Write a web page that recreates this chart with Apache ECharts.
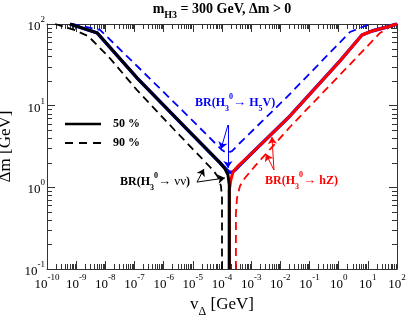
<!DOCTYPE html>
<html><head><meta charset="utf-8">
<script src="https://cdn.jsdelivr.net/npm/echarts@6/dist/echarts.min.js"></script>
<style>html,body{margin:0;padding:0;background:#fff}#c{width:409px;height:315px}</style>
</head><body><div id="c"></div>
<script>
// ---- tick labels (exponents of 10) ----
const xTickExp = [-10,-9,-8,-7,-6,-5,-4,-3,-2,-1,0,1,2];
const yTickExp = [-1,0,1,2];

// ---- legend entries ----
const legendNames = ['50 %', '90 %'];

// ---- curves (v_Delta [GeV], Delta m [GeV]) ----
const blackSolidX = [6.1e-10, 5.2e-9, 1.2e-7, 3.6e-6, 8.5e-5, 1.26e-4, 1.6e-4, 1.78e-4, 1.78e-4];
const blackSolidY = [100, 78, 22, 6.3, 2.0, 1.68, 1.42, 1.07, 0.1];

const blackDashX = [1.9e-10, 9.1e-10, 2.6e-9, 1.45e-8, 1.2e-7, 2.4e-6, 4.9e-5, 7.3e-5, 9.2e-5, 1.0e-4, 1.0e-4];
const blackDashY = [100, 84, 71, 38, 15.6, 5.0, 1.63, 1.34, 1.04, 0.74, 0.1];

const blueDashX = [7.2e-10, 6.6e-9, 1.22e-7, 8.0e-6, 5.7e-5, 1.0e-4, 1.48e-4, 2.2e-4, 4.1e-4, 1.7e-2, 2.44, 11.8];
const blueDashY = [100, 84.5, 30.6, 7.06, 3.49, 2.86, 2.63, 2.78, 3.49, 12.8, 79.8, 100];

const blueSolidX = [6.1e-10, 5.2e-9, 1.2e-7, 3.6e-6, 8.5e-5, 1.26e-4, 1.73e-4, 2.2e-4, 2.8e-4, 3.8e-4, 9.1e-4, 2.14e-2, 1.11, 6.3, 13.9, 45.3, 100];
const blueSolidY = [100, 78, 22, 6.3, 2.0, 1.73, 1.54, 1.52, 1.63, 1.82, 2.49, 7.48, 35.3, 73.3, 82.1, 91.9, 100];

const redSolidX = [1.78e-4, 1.78e-4, 2.0e-4, 2.38e-4, 3.53e-4, 9.1e-4, 2.14e-2, 1.11, 6.3, 13.9, 45.3, 100];
const redSolidY = [0.1, 0.93, 1.23, 1.54, 1.82, 2.49, 7.48, 35.3, 73.3, 82.1, 91.9, 100];

const redDashX = [3.0e-4, 3.0e-4, 3.26e-4, 4.13e-4, 6.1e-4, 1.35e-3, 2.14e-2, 26.1, 72.8, 100];
const redDashY = [0.1, 0.47, 0.74, 1.04, 1.30, 1.82, 5.48, 77.6, 97.2, 100];

// ---- annotation arrows (data coords: [from], [to]) ----
const blueArrows = [[[1.6e-4, 5.8], [9.2e-5, 2.94]], [[1.6e-4, 5.8], [1.6e-4, 1.73]]];
const blackArrows = [[[1.39e-5, 1.16], [2.41e-5, 1.68]], [[1.39e-5, 1.16], [1.26e-4, 1.30]]];
const redArrows = [[[6.05e-3, 1.63], [5.17e-3, 4.13]], [[6.05e-3, 1.63], [3.22e-3, 2.56]]];

const FONT = 'Liberation Serif';
const DASH = [8, 5];
const zip = (xs, ys) => xs.map((x, i) => [x, ys[i]]);

const chart = echarts.init(document.getElementById('c'), null, {renderer: 'canvas'});

const supRich = {
  b: {fontFamily: FONT, fontSize: 13, color: '#000', lineHeight: 18, verticalAlign: 'bottom'},
  s: {fontFamily: FONT, fontSize: 9, color: '#000', lineHeight: 18, verticalAlign: 'top'}
};
function expLabel(list) {
  return function (v) {
    const e = Math.round(Math.log10(v));
    if (list.indexOf(e) < 0) return '';
    return '{b|10}{s|' + e + '}';
  };
}
const axisLine = {show: true, lineStyle: {color: '#333', width: 1}};
const tick = {show: true, inside: true, length: 8, lineStyle: {color: '#333', width: 1}};

function arrowsML(arr, color) {
  return {
    silent: true, animation: false,
    symbol: ['none', 'arrow'], symbolSize: 7,
    label: {show: false},
    lineStyle: {type: 'solid', width: 1, color: color},
    emphasis: {disabled: true},
    data: arr.map(a => [{coord: a[0]}, {coord: a[1]}])
  };
}
function line(name, xs, ys, color, type, width, z, ml) {
  const s = {
    name: name, type: 'line', data: zip(xs, ys), symbol: 'none', showSymbol: false,
    lineStyle: {color: color, width: width, type: type}, itemStyle: {color: color},
    z: z, silent: true, animation: false, emphasis: {disabled: true}, clip: true
  };
  if (ml) s.markLine = ml;
  return s;
}

const option = {
  backgroundColor: '#fff',
  animation: false,
  grid: {left: 47, right: 12, top: 24, bottom: 46, containLabel: false, outerBoundsMode: 'none'},
  xAxis: [
    {type: 'log', logBase: 10, min: 1e-10, max: 1e2, interval: 1, position: 'bottom',
     axisLine: axisLine, axisTick: tick, splitLine: {show: false},
     axisLabel: {formatter: expLabel(xTickExp), rich: supRich, margin: 4, hideOverlap: false, showMinLabel: true, showMaxLabel: true},
     name: '{v|v}{d|Δ}{v| [GeV]}', nameLocation: 'middle', nameGap: 20,
     nameTextStyle: {rich: {
       v: {fontFamily: FONT, fontSize: 17, color: '#000', lineHeight: 22, verticalAlign: 'top'},
       d: {fontFamily: FONT, fontSize: 12, color: '#000', lineHeight: 22, verticalAlign: 'bottom'}}}},
    {type: 'log', logBase: 10, min: 1e-10, max: 1e2, interval: 1, position: 'top',
     axisLine: axisLine, axisTick: tick, splitLine: {show: false}, axisLabel: {show: false}}
  ],
  yAxis: [
    {type: 'log', logBase: 10, min: 0.1, max: 100, interval: 1, position: 'left',
     axisLine: axisLine, axisTick: tick, splitLine: {show: false},
     axisLabel: {formatter: expLabel(yTickExp), rich: supRich, margin: 2, showMinLabel: true, showMaxLabel: true},
     name: 'Δm [GeV]', nameLocation: 'middle', nameGap: 30, nameRotate: 90,
     nameTextStyle: {fontFamily: FONT, fontSize: 17, color: '#000'}},
    {type: 'log', logBase: 10, min: 0.1, max: 100, interval: 1, position: 'right',
     axisLine: axisLine, axisTick: tick, splitLine: {show: false}, axisLabel: {show: false}}
  ],
  series: [
    line('blueDash', blueDashX, blueDashY, '#0000ff', DASH, 1.8, 2, arrowsML(blueArrows, '#0000ff')),
    line(legendNames[1], blackDashX, blackDashY, '#000000', DASH, 1.8, 2, arrowsML(blackArrows, '#000000')),
    line('redDash', redDashX, redDashY, '#ff0000', DASH, 1.8, 2, arrowsML(redArrows, '#ff0000')),
    line('blueSolid', blueSolidX, blueSolidY, '#0000ff', 'solid', 3.4, 3),
    line('redSolid', redSolidX, redSolidY, '#ff0000', 'solid', 3, 4),
    line(legendNames[0], blackSolidX, blackSolidY, '#000000', 'solid', 3, 5)
  ]
};
chart.setOption(option);

// ---- minor ticks (2..9 x 10^k), legend and text annotations ----
const p0 = chart.convertToPixel({gridIndex: 0}, [1e-10, 0.1]);
const p1 = chart.convertToPixel({gridIndex: 0}, [1e2, 1e2]);
const gl = p0[0], gb = p0[1], gr = p1[0], gt = p1[1];
const g = [];
const tickStyle = {stroke: '#333', lineWidth: 1};
for (let k = -10; k < 2; k++) {
  for (let m = 2; m <= 9; m++) {
    const px = Math.round(chart.convertToPixel({xAxisIndex: 0}, m * Math.pow(10, k))) + 0.5;
    g.push({type: 'line', silent: true, shape: {x1: px, y1: gb, x2: px, y2: gb - 5}, style: tickStyle});
    g.push({type: 'line', silent: true, shape: {x1: px, y1: gt, x2: px, y2: gt + 5}, style: tickStyle});
  }
}
for (let k = -1; k < 2; k++) {
  for (let m = 2; m <= 9; m++) {
    const py = Math.round(chart.convertToPixel({yAxisIndex: 0}, m * Math.pow(10, k))) + 0.5;
    g.push({type: 'line', silent: true, shape: {x1: gl, y1: py, x2: gl + 5, y2: py}, style: tickStyle});
    g.push({type: 'line', silent: true, shape: {x1: gr, y1: py, x2: gr - 5, y2: py}, style: tickStyle});
  }
}
// legend
g.push({type: 'line', silent: true, z: 10, shape: {x1: 65, y1: 124, x2: 101, y2: 124}, style: {stroke: '#000', lineWidth: 2.5}});
g.push({type: 'line', silent: true, z: 10, shape: {x1: 65, y1: 143, x2: 101, y2: 143}, style: {stroke: '#000', lineWidth: 1.8, lineDash: [8, 6]}});
g.push({type: 'text', silent: true, z: 10, x: 113, y: 124, style: {text: legendNames[0], font: 'bold 12px "Liberation Serif"', fill: '#000', verticalAlign: 'middle'}});
g.push({type: 'text', silent: true, z: 10, x: 113, y: 143, style: {text: legendNames[1], font: 'bold 12px "Liberation Serif"', fill: '#000', verticalAlign: 'middle'}});

function brRich(color) {
  return {
    b: {fontFamily: FONT, fontSize: 12, fontWeight: 'bold', fill: color, color: color, lineHeight: 20, verticalAlign: 'middle'},
    r: {fontFamily: FONT, fontSize: 13, fill: color, color: color, lineHeight: 20, verticalAlign: 'middle'},
    sub: {fontFamily: FONT, fontSize: 8, fontWeight: 'bold', fill: color, color: color, lineHeight: 20, verticalAlign: 'bottom'},
    sup: {fontFamily: FONT, fontSize: 8, fontWeight: 'bold', fill: color, color: color, lineHeight: 20, verticalAlign: 'top'}
  };
}
g.push({type: 'text', silent: true, x: 222, y: 11, z: 10, style: {
  text: '{a|m}{s|H3}{a| = 300 GeV, Δm > 0}', align: 'center', verticalAlign: 'middle',
  rich: {a: {fontFamily: FONT, fontSize: 14, fontWeight: 'bold', fill: '#000', lineHeight: 18, verticalAlign: 'top'},
         s: {fontFamily: FONT, fontSize: 10, fontWeight: 'bold', fill: '#000', lineHeight: 18, verticalAlign: 'bottom'}}}});
g.push({type: 'text', silent: true, x: 195, y: 103, z: 10, style: {
  text: '{b|BR(H}{sub|3}{sup|0}{r|→ }{b|H}{sub|5}{b|V)}', align: 'left', verticalAlign: 'middle', rich: brRich('#0000ff')}});
g.push({type: 'text', silent: true, x: 120, y: 182, z: 10, style: {
  text: '{b|BR(H}{sub|3}{sup|0}{r|→ νν}{b|)}', align: 'left', verticalAlign: 'middle', rich: brRich('#000000')}});
g.push({type: 'text', silent: true, x: 265, y: 181, z: 10, style: {
  text: '{b|BR(H}{sub|3}{sup|0}{r|→ }{b|hZ)}', align: 'left', verticalAlign: 'middle', rich: brRich('#ff0000')}});
chart.setOption({graphic: {elements: g}});
</script>
</body></html>
